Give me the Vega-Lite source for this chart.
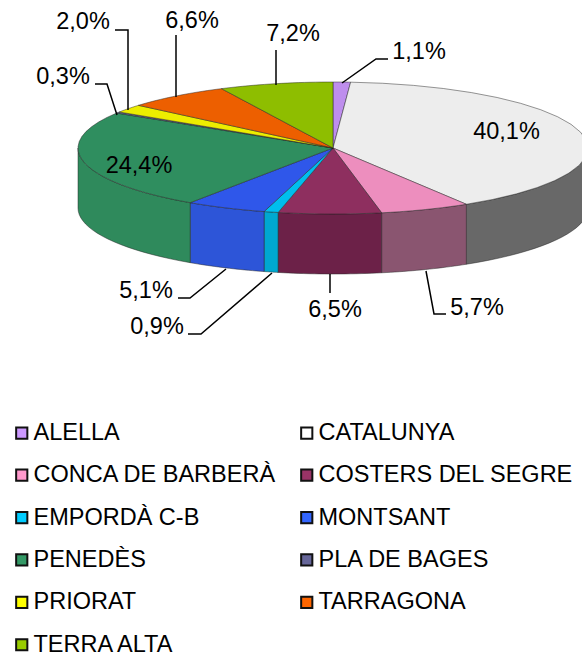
{
"$schema":"https://vega.github.io/schema/vega-lite/v6.json",
"width":582,"height":657,"padding":0,"autosize":{"type":"none"},
"background":"white",
"config":{"view":{"stroke":null},"font":"Liberation Sans"},
"data":{"values":[
{"name":"ALELLA","value":1.1},
{"name":"CATALUNYA","value":40.1},
{"name":"CONCA DE BARBERÀ","value":5.7},
{"name":"COSTERS DEL SEGRE","value":6.5},
{"name":"EMPORDÀ C-B","value":0.9},
{"name":"MONTSANT","value":5.1},
{"name":"PENEDÈS","value":24.4},
{"name":"PLA DE BAGES","value":0.3},
{"name":"PRIORAT","value":2.0},
{"name":"TARRAGONA","value":6.6},
{"name":"TERRA ALTA","value":7.2}
]},
"transform":[
{"joinaggregate":[{"op":"sum","field":"value","as":"total"}]},
{"window":[{"op":"sum","field":"value","as":"cum"}],"ignorePeers":true,"frame":[null,0]},
{"calculate":"2*PI*(datum.cum-datum.value)/datum.total","as":"t1"},
{"calculate":"2*PI*datum.cum/datum.total","as":"t2"},
{"calculate":"max(datum.t1,PI/2)","as":"a"},
{"calculate":"min(datum.t2,3*PI/2)","as":"b"},
{"calculate":"replace(format(datum.value,'.1f'),'.',',')+'%'","as":"label"}
],
"resolve":{"scale":{"color":"independent","fill":"independent"}},
"layer":[
{"transform":[{"calculate":"333","as":"cx"},{"calculate":"148","as":"cy"}],
 "mark":{"type":"point","filled":true,"opacity":1},
 "encoding":{
  "x":{"field":"cx","type":"quantitative","scale":null,"axis":null},
  "y":{"field":"cy","type":"quantitative","scale":null,"axis":null},
  "size":{"value":1},
  "color":{"field":"name","type":"nominal","scale":{
    "domain":["ALELLA","CATALUNYA","CONCA DE BARBERÀ","COSTERS DEL SEGRE","EMPORDÀ C-B","MONTSANT","PENEDÈS","PLA DE BAGES","PRIORAT","TARRAGONA","TERRA ALTA"],
    "range":["#cc99ff","#ffffff","#ff99cc","#993366","#00ccff","#3366ff","#339966","#666699","#ffff00","#ff6600","#99cc00"]},
   "legend":{"title":null,"orient":"none","direction":"horizontal","legendX":10,"legendY":421,"columns":2,"symbolType":"square","symbolSize":125,"symbolStrokeColor":"#111111","symbolStrokeWidth":2,"labelFont":"Liberation Sans","labelFontSize":23.5,"labelColor":"#000000","labelLimit":400,"labelOffset":0,"rowPadding":17.4,"columnPadding":18}}
 }},
{"transform":[
  {"filter":"datum.b>datum.a"},
  {"calculate":"[0,0.05,0.1,0.15,0.2,0.25,0.3,0.35,0.4,0.45,0.5,0.55,0.6,0.65,0.7,0.75,0.8,0.85,0.9,0.95,1,1.0001,1.05,1.1,1.15,1.2,1.25,1.3,1.35,1.4,1.45,1.5,1.55,1.6,1.65,1.7,1.75,1.8,1.85,1.9,1.95,2]","as":"u"},
  {"flatten":["u"]},
  {"calculate":"datum.a+(datum.b-datum.a)*(datum.u<=1?datum.u:2-datum.u)","as":"t"},
  {"calculate":"333+255*sin(datum.t)","as":"px"},
  {"calculate":"148-66*cos(datum.t)+(datum.u>1?60:0)","as":"py"}],
 "mark":{"type":"line","interpolate":"linear-closed","opacity":1,"stroke":"#222222","strokeWidth":0.8,"strokeOpacity":0.6},
 "encoding":{
  "x":{"field":"px","type":"quantitative","scale":null,"axis":null},
  "y":{"field":"py","type":"quantitative","scale":null,"axis":null},
  "order":{"field":"u","type":"quantitative"},
  "detail":{"field":"name","type":"nominal"},
  "fill":{"field":"name","type":"nominal","legend":null,"scale":{
   "domain":["CATALUNYA","CONCA DE BARBERÀ","COSTERS DEL SEGRE","EMPORDÀ C-B","MONTSANT","PENEDÈS"],
   "range":["#686868","#8a5570","#6c2148","#00a8d0","#2d55d8","#2f8a5c"]}}
 }},
{"transform":[
  {"calculate":"[-1,0,0.05,0.1,0.15,0.2,0.25,0.3,0.35,0.4,0.45,0.5,0.55,0.6,0.65,0.7,0.75,0.8,0.85,0.9,0.95,1]","as":"u"},
  {"flatten":["u"]},
  {"calculate":"datum.t1+(datum.t2-datum.t1)*datum.u","as":"t"},
  {"calculate":"datum.u<0?333:333+255*sin(datum.t)","as":"px"},
  {"calculate":"datum.u<0?148:148-66*cos(datum.t)","as":"py"}],
 "mark":{"type":"line","interpolate":"linear-closed","opacity":1,"stroke":"#222222","strokeWidth":0.8,"strokeOpacity":0.6},
 "encoding":{
  "x":{"field":"px","type":"quantitative","scale":null,"axis":null},
  "y":{"field":"py","type":"quantitative","scale":null,"axis":null},
  "order":{"field":"u","type":"quantitative"},
  "detail":{"field":"name","type":"nominal"},
  "fill":{"field":"name","type":"nominal","legend":null,"scale":{
    "domain":["ALELLA","CATALUNYA","CONCA DE BARBERÀ","COSTERS DEL SEGRE","EMPORDÀ C-B","MONTSANT","PENEDÈS","PLA DE BAGES","PRIORAT","TARRAGONA","TERRA ALTA"],
    "range":["#be8eed","#ededed","#ed8ebe","#8e2f5f","#00beed","#2f57ea","#2f8e5f","#5f5f8e","#eded00","#ed5f00","#8ebe00"]}}
 }},
{"transform":[
  {"filter":"datum.name!='CATALUNYA' && datum.name!='PENEDÈS'"},
  {"calculate":"{'ALELLA':[[0,342,83],[1,376,59],[2,388,59]],'CONCA DE BARBERÀ':[[0,426,271],[1,434,314],[2,446,314]],'COSTERS DEL SEGRE':[[0,330,274],[1,330,293]],'EMPORDÀ C-B':[[0,188,334],[1,201,334],[2,272,273]],'MONTSANT':[[0,178,298],[1,190,298],[2,226,269]],'PLA DE BAGES':[[0,95,84],[1,107,84],[2,117,115]],'PRIORAT':[[0,115,30],[1,128,30],[2,128,110]],'TARRAGONA':[[0,176,35],[1,176,97]],'TERRA ALTA':[[0,276,50],[1,276,85]]}[datum.name]","as":"pt"},
  {"flatten":["pt"]},
  {"calculate":"datum.pt[0]","as":"i"},
  {"calculate":"datum.pt[1]","as":"px"},
  {"calculate":"datum.pt[2]","as":"py"}],
 "mark":{"type":"line","opacity":1,"stroke":"#000000","strokeWidth":1.5},
 "encoding":{
  "x":{"field":"px","type":"quantitative","scale":null,"axis":null},
  "y":{"field":"py","type":"quantitative","scale":null,"axis":null},
  "order":{"field":"i","type":"quantitative"},
  "detail":{"field":"name","type":"nominal"}}},
{"transform":[
  {"calculate":"{'ALELLA':[419,52],'CATALUNYA':[506.5,132],'CONCA DE BARBERÀ':[477,308],'COSTERS DEL SEGRE':[335,310],'EMPORDÀ C-B':[157,327],'MONTSANT':[146,291],'PENEDÈS':[139,166],'PLA DE BAGES':[63,77],'PRIORAT':[83,22],'TARRAGONA':[192,21],'TERRA ALTA':[293,34]}[datum.name]","as":"pos"},
  {"calculate":"datum.pos[0]","as":"lx"},
  {"calculate":"datum.pos[1]","as":"ly"}],
 "mark":{"type":"text","font":"Liberation Sans","fontSize":23.5,"color":"#000000","align":"center","baseline":"middle"},
 "encoding":{"x":{"field":"lx","type":"quantitative","scale":null,"axis":null},"y":{"field":"ly","type":"quantitative","scale":null,"axis":null},"text":{"field":"label"}}}
]
}
